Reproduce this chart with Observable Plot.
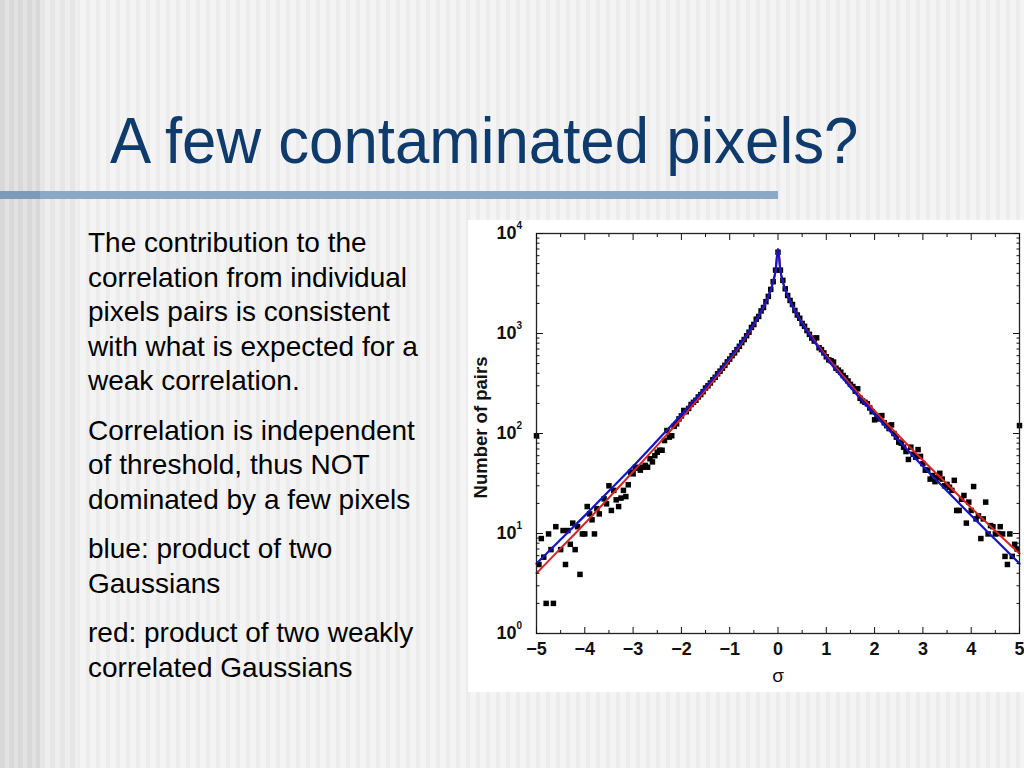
<!DOCTYPE html>
<html><head><meta charset="utf-8">
<script src="https://cdn.jsdelivr.net/npm/d3@7"></script>
<script src="https://cdn.jsdelivr.net/npm/@observablehq/plot@0.6"></script>
<style>
html,body{margin:0;padding:0;}
body{width:1024px;height:768px;overflow:hidden;position:relative;font-family:"Liberation Sans",Arial,Helvetica,sans-serif;
 background:repeating-linear-gradient(90deg,#f4f4f4 0px,#f4f4f4 6px,#ececec 6px,#ececec 10px);}
#band1{position:absolute;left:0;top:0;width:40px;height:768px;background:repeating-linear-gradient(90deg,#d8d8d8 0px,#d8d8d8 5px,#e2e2e2 5px,#e2e2e2 9px);}
#band2{position:absolute;left:40px;top:0;width:38px;height:768px;background:repeating-linear-gradient(90deg,#e6e6e6 0px,#e6e6e6 5px,#eeeeee 5px,#eeeeee 10px);}
#title{position:absolute;left:110px;top:104px;font-size:64px;line-height:normal;color:#0e3a6c;white-space:nowrap;transform:scaleX(0.965);transform-origin:0 0;}
#rule{position:absolute;left:0;top:191px;width:778px;height:8px;background:#8ba8c6;}
#rule2{position:absolute;left:0;top:191px;width:40px;height:8px;background:#7d9aba;}
#text{position:absolute;left:88px;top:226px;font-size:28px;line-height:34.6px;color:#000;white-space:nowrap;}
#text p{margin:0 0 14.8px 0;}
#box{position:absolute;left:468px;top:220px;width:556px;height:472px;background:#fff;}
#box svg{overflow:visible;}
</style></head>
<body>
<div id="band1"></div><div id="band2"></div>
<div id="title">A few contaminated pixels?</div>
<div id="rule"></div><div id="rule2"></div>
<div id="text">
<p>The contribution to the<br>correlation from individual<br>pixels pairs is consistent<br>with what is expected for a<br>weak correlation.</p>
<p>Correlation is independent<br>of threshold, thus NOT<br>dominated by a few pixels</p>
<p>blue: product of two<br>Gaussians</p>
<p>red: product of two weakly<br>correlated Gaussians</p>
</div>
<div id="box"></div>
<script>
// measured points (sigma, number of pairs)
const dataSigma = [
 -5.00,-4.95,-4.90,-4.85,-4.80,-4.75,-4.70,-4.65,-4.60,-4.50,-4.45,-4.40,-4.35,-4.30,-4.25,-4.20,-4.15,-4.10,-4.05,-4.00,
 -3.95,-3.90,-3.85,-3.80,-3.75,-3.70,-3.60,-3.55,-3.50,-3.45,-3.40,-3.35,-3.30,-3.25,-3.20,-3.15,-3.10,-3.05,-3.00,
 -2.95,-2.90,-2.85,-2.80,-2.75,-2.70,-2.65,-2.60,-2.55,-2.50,-2.45,-2.40,-2.35,-2.30,-2.25,-2.20,-2.15,-2.10,-2.05,-2.00,
 -1.95,-1.90,-1.85,-1.80,-1.75,-1.70,-1.65,-1.60,-1.55,-1.50,-1.45,-1.40,-1.35,-1.30,-1.25,-1.20,-1.15,-1.10,-1.05,-1.00,
 -0.95,-0.90,-0.85,-0.80,-0.75,-0.70,-0.65,-0.60,-0.55,-0.50,-0.45,-0.40,-0.35,-0.30,-0.25,-0.20,-0.15,-0.10,-0.05,
 0.00,
 0.05,0.10,0.15,0.20,0.25,0.30,0.35,0.40,0.45,0.50,0.55,0.60,0.65,0.70,0.75,0.80,0.85,0.90,0.95,1.00,
 1.05,1.10,1.15,1.20,1.25,1.30,1.35,1.40,1.45,1.50,1.55,1.60,1.65,1.70,1.75,1.80,1.85,1.90,1.95,2.00,
 2.05,2.10,2.15,2.20,2.25,2.30,2.35,2.40,2.45,2.50,2.55,2.60,2.65,2.70,2.75,2.80,2.85,2.90,2.95,3.00,
 3.05,3.10,3.15,3.20,3.25,3.30,3.35,3.40,3.45,3.50,3.55,3.60,3.65,3.70,3.75,3.80,3.85,3.90,3.95,4.00,
 4.05,4.10,4.15,4.20,4.25,4.30,4.35,4.40,4.45,4.50,4.55,4.60,4.65,4.70,4.75,4.80,4.85,4.90,4.95,5.00
];
const dataCount = [
 95,4.9,8.9,5.8,2,9.9,6.9,2,11.7,6.9,10.7,4.9,10.7,7.8,12.7,6.9,11.7,3.9,9.9,9.9,
 18.6,15.7,13.7,9.9,17.7,15.7,22.2,19.8,30,17,27,21.7,18.6,22.6,27,23.4,30.7,41,39.5,
 46,45,43,46,48,46,56,52,60,65,68,68,85,107,92,95,118,125,140,150,
 170,165,178,195,205,215,232,245,262,285,300,320,345,365,395,420,450,480,520,555,
 600,640,690,745,810,870,950,1030,1150,1230,1390,1480,1680,1820,2080,2350,2760,3300,4300,
 6500,
 4300,3400,2800,2400,2140,1950,1700,1530,1420,1260,1180,1070,980,900,840,905,720,690,640,585,
 545,535,518,450,430,410,380,360,335,310,295,265,280,225,212,205,198,180,165,137,
 150,140,151,128,120,112,122,100,92,82,80,73,66,55,73,62,58,69,59,50,
 43,43,35,38,33,36,40,35,30,31,29,27,34,17,17,22,24,12.7,20.6,17,
 29.5,14,15,8.9,14,20.6,9.9,12,11.7,9.9,10,11.7,9.9,5.9,4.9,9.9,5.9,7.8,7.0,120
];
// fitted curves
const curveSigma = [-5,-4.5,-4,-3.5,-3,-2.5,-2,-1.5,-1,-0.75,-0.5,-0.35,-0.25,-0.15,-0.1,-0.05,0,0.05,0.1,0.15,0.25,0.35,0.5,0.75,1,1.5,2,2.5,3,3.5,4,4.5,5];
const blueCount = [5.0,8.7,15.1,26.6,47,85,155,290,570,830,1250,1670,2090,2750,3300,4250,7000,4250,3300,2750,2090,1670,1250,830,570,290,155,85,47,26.6,15.1,8.7,5.0];
const redCount  = [4.0,7.1,12.6,22.8,41.5,76,142,271,545,802,1222,1645,2066,2730,3285,4240,7000,4260,3315,2770,2115,1695,1280,858,596,310,169,95,54,31.2,18.1,10.6,6.3];
// axis ticks
const xMajor = [-5,-4,-3,-2,-1,0,1,2,3,4,5];
const xLabels = ["\u22125","\u22124","\u22123","\u22122","\u22121","0","1","2","3","4","5"];
const xMinor = [-4.5,-3.5,-2.5,-1.5,-0.5,0.5,1.5,2.5,3.5,4.5];
const yMajor = [1,10,100,1000,10000];
const yExp = ["0","1","2","3","4"];
const yMinor = [2,3,4,5,6,7,8,9,20,30,40,50,60,70,80,90,200,300,400,500,600,700,800,900,2000,3000,4000,5000,6000,7000,8000,9000];

const points = dataSigma.map((s, i) => ({s, n: dataCount[i]}));
const blue = curveSigma.map((s, i) => ({s, n: blueCount[i]}));
const red = curveSigma.map((s, i) => ({s, n: redCount[i]}));

const lab = {fontSize: 18, fontWeight: "bold", label: null};
const chart = Plot.plot({
  width: 556, height: 472,
  marginLeft: 68, marginRight: 5, marginTop: 13, marginBottom: 59,
  x: {domain: [-5, 5]},
  y: {type: "log", domain: [1, 10000]},
  style: {fontFamily: "'Liberation Sans', Arial, Helvetica, sans-serif", background: "white", color: "#111"},
  marks: [
    Plot.dot(points, {x: "s", y: "n", symbol: "square", r: 3.1, fill: "#000", stroke: "none"}),
    Plot.line(red, {x: "s", y: "n", stroke: "#d42424", strokeWidth: 2, curve: "monotone-x"}),
    Plot.line(blue, {x: "s", y: "n", stroke: "#1414c8", strokeWidth: 2.2, curve: "monotone-x"}),
    Plot.frame({stroke: "#222", strokeWidth: 1.3}),
    Plot.axisX({anchor: "bottom", ticks: xMajor, tickSize: -6, tickFormat: () => "", label: null}),
    Plot.axisX({anchor: "top", ticks: xMajor, tickSize: -6, tickFormat: () => "", label: null}),
    Plot.axisX({anchor: "bottom", ticks: xMinor, tickSize: -3, tickFormat: () => "", label: null}),
    Plot.axisX({anchor: "top", ticks: xMinor, tickSize: -3, tickFormat: () => "", label: null}),
    Plot.axisY({anchor: "left", ticks: yMajor, tickSize: -7, tickFormat: () => "", label: null}),
    Plot.axisY({anchor: "right", ticks: yMajor, tickSize: -7, tickFormat: () => "", label: null}),
    Plot.axisY({anchor: "left", ticks: yMinor, tickSize: -3.5, tickFormat: () => "", label: null}),
    Plot.axisY({anchor: "right", ticks: yMinor, tickSize: -3.5, tickFormat: () => "", label: null}),
    Plot.axisX({anchor: "bottom", ticks: xMajor, tickSize: 0, tickPadding: 9, tickFormat: (d, i) => xLabels[i], ...lab}),
    Plot.axisY({anchor: "left", ticks: yMajor, tickSize: 0, tickPadding: 20, tickFormat: () => "10", ...lab}),
    Plot.text(yMajor, {y: d => d, text: yExp, frameAnchor: "left", dx: -20, dy: -8, textAnchor: "start", fontSize: 10, fontWeight: "bold"}),
    Plot.text(["\u03c3"], {text: d => d, frameAnchor: "bottom", dy: 42, lineAnchor: "middle", fontSize: 19}),
    Plot.text(["Number of pairs"], {text: d => d, frameAnchor: "left", textAnchor: "middle", dx: -55, dy: -6, rotate: -90, fontSize: 18.5, fontWeight: "bold"})
  ]
});
document.getElementById("box").appendChild(chart);
</script>
</body></html>
